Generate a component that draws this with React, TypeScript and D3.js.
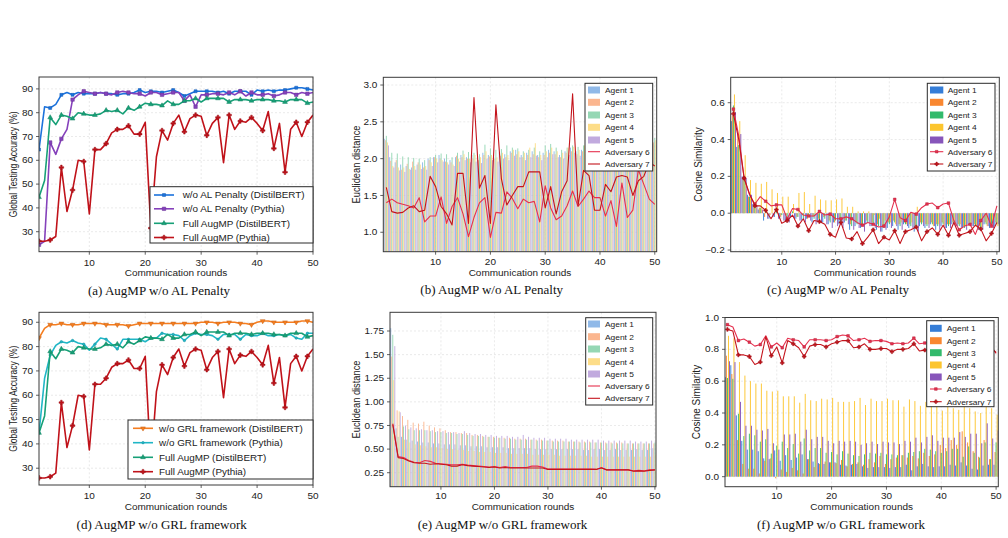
import React from "react";
import * as d3 from "d3";

// ---------------- DATA ----------------
const rounds = d3.range(1, 51);

// (a) / (d) global testing accuracy
const accNoALDistil = [64.5,82.5,82,83.5,87.5,88.5,87.5,88.5,88,88,88,88.5,88,88,87.5,88,88,88.5,89.5,88.5,89,89,88.5,89,89.5,88.5,87,88,89,89,89,89,88.5,89,88,89,89,89,87.5,89.5,89,89.5,89,89.5,89.5,90,90.5,90.5,90,89.5];
const accNoALPythia = [24.5,26,67.5,62.5,69,73,85.5,87.5,89,88.5,88,88.5,88,87.5,88.5,89,88.5,88,88,87,88.5,88.5,87.5,88,88.5,88.5,85,87.5,82.5,87.5,87.5,88,88,87.5,88.5,87.5,89,87,88.5,87.5,87.5,88,87,87.5,88.5,88.5,87.5,88.5,88,88.5];
const accFullDistil = [44.5,51.5,78,75,79,78.5,77.5,80,79.5,79,79,79.5,81,80.5,81,79.5,82,81,82.5,84,83.5,83.5,83,85,83.5,83.5,85,85,86,84.5,86,86,86,86,84.5,85.5,85.5,85.5,85,85.5,85.5,85.5,85,85,84.5,85.5,85.5,85.5,84,84.5];
const accFullPythia = [26,26,26.5,28,57,38.5,47.5,60,59.5,37.5,64.5,64.5,67,71.5,73,73,74.5,71,71,76,31.5,61.5,72.5,68.5,75.5,79,72,77.5,79,78.5,70.5,75.5,78,59,79,73,76.5,76,78,75.5,72.5,80.5,65,75.5,55,73,76,70,76,79];
const accNoGRLDistil = [83.5,87.5,89,89,89.5,89,89,89,89.5,89.5,89.5,89.5,89,89,89,89,88.5,89,89.5,89.5,89.5,89.5,89.5,89.5,89.5,89.5,89.5,89.5,89.5,90,90,90,89.5,90,90,90,89.5,89.5,89,90,90.5,90.5,90,90,90,90,90,90.5,90.5,90];
const accNoGRLPythia = [44.5,67,76.5,80.5,82,81.5,82.5,81.5,81,78.5,81,83.5,83,81,79,83,83,83,83,82,83.5,83.5,85.5,85,85,84.5,82.5,84.5,85.5,85,85,84.5,83,85,85,85,83,85,84.5,84.5,85.5,84.5,84.5,85,84.5,85,83.5,83,85.5,85.5];

// (b) Euclidean distance, w/o AL penalty
const eucB1 = [2.27,2.02,1.95,1.92,1.9,1.88,1.92,1.95,2.0,2.02,2.05,2.0,1.98,2.02,2.05,2.02,2.05,2.03,2.08,2.05,2.02,2.08,2.06,2.1,2.12,2.05,2.08,2.1,2.05,2.08,2.12,2.1,2.05,2.1,2.15,2.1,2.12,2.15,2.1,2.12,2.15,2.12,2.1,2.15,2.12,2.18,2.15,2.1,2.15,2.2];
const eucB2 = [2.25,1.97,1.98,1.85,1.93,1.96,1.95,1.88,1.98,2.02,2.0,1.96,1.95,2.04,2.02,2.0,2.0,1.98,2.05,2.03,2.0,2.04,2.02,2.08,2.06,2.02,2.05,2.06,2.02,2.05,2.08,2.06,2.02,2.08,2.1,2.06,2.1,2.1,2.06,2.08,2.12,2.08,2.06,2.1,2.08,2.12,2.1,2.08,2.12,2.22];
const eucB3 = [2.31,2.08,2.07,2.03,2.02,2.01,2.0,1.98,2.02,2.05,2.07,2.06,2.02,2.08,2.11,2.09,2.08,2.06,2.19,2.14,2.12,2.13,2.18,2.15,2.14,2.1,2.12,2.15,2.1,2.18,2.2,2.15,2.12,2.15,2.18,2.16,2.18,2.2,2.15,2.18,2.2,2.18,2.15,2.2,2.18,2.22,2.2,2.15,2.2,2.28];
const eucB4 = [2.22,1.9,1.88,1.88,1.86,1.9,1.92,1.9,1.95,2.0,1.98,1.95,1.92,2.0,2.06,2.0,2.05,2.02,2.1,2.05,2.02,2.08,2.05,2.12,2.1,2.08,2.15,2.21,2.05,2.1,2.15,2.1,2.08,2.15,2.16,2.12,2.18,2.2,2.12,2.15,2.18,2.15,2.12,2.18,2.15,2.2,2.18,2.12,2.18,2.25];
const eucB5 = [2.18,1.88,1.84,1.82,1.85,1.85,1.86,1.85,1.9,1.95,1.96,1.92,1.9,1.96,1.98,1.95,1.96,1.94,2.0,1.98,1.96,2.0,1.98,2.04,2.02,1.98,2.02,2.04,1.98,2.02,2.06,2.02,2.0,2.05,2.08,2.04,2.06,2.08,2.04,2.06,2.1,2.06,2.04,2.08,2.06,2.1,2.08,2.04,2.08,2.18];
const eucBAdv6 = [1.40,1.45,1.40,1.38,1.36,1.33,1.47,1.14,1.22,1.22,1.48,1.12,1.35,1.47,1.25,0.94,1.20,1.40,1.47,0.93,1.27,1.26,1.55,1.46,1.32,1.45,1.40,1.42,1.14,1.63,1.33,1.17,1.22,1.36,1.56,1.35,1.45,1.56,1.47,1.47,1.22,1.43,1.08,1.67,1.20,1.30,1.85,1.65,1.45,1.38];
const eucBAdv7 = [1.61,1.28,1.26,1.27,1.33,1.36,1.28,1.30,1.76,1.62,1.35,1.25,1.10,1.80,1.80,1.12,2.83,1.60,1.77,1.12,2.73,1.73,1.37,1.50,1.62,1.62,1.82,1.82,1.82,1.33,1.62,1.25,1.55,1.70,2.88,1.36,1.84,1.77,1.30,1.30,1.65,1.55,1.75,1.77,1.75,1.50,1.70,1.76,1.95,1.90];

// (c) cosine similarity, w/o AL penalty
const cosC1 = [0.50,0.36,0.20,0.10,0.05,0.02,-0.04,-0.03,-0.02,-0.03,-0.04,-0.02,-0.03,-0.04,-0.03,-0.05,-0.04,-0.05,-0.06,-0.05,-0.06,-0.05,-0.09,-0.07,-0.08,-0.06,-0.07,-0.09,-0.1,-0.08,-0.07,-0.09,-0.06,-0.08,-0.1,-0.07,-0.08,-0.06,-0.09,-0.07,-0.08,-0.06,-0.07,-0.08,-0.06,-0.07,-0.09,-0.06,-0.08,-0.07];
const cosC2 = [0.53,0.43,0.19,0.09,0.04,0.03,-0.02,-0.01,0.0,-0.02,-0.01,0.0,-0.02,-0.01,-0.03,-0.02,-0.03,-0.02,-0.04,-0.05,-0.03,-0.04,-0.06,-0.05,-0.06,-0.04,-0.05,-0.06,-0.07,-0.05,-0.04,-0.06,-0.05,-0.06,-0.07,-0.05,-0.06,-0.05,-0.06,-0.05,-0.06,-0.05,-0.06,-0.07,-0.05,-0.06,-0.07,-0.05,-0.06,-0.05];
const cosC3 = [0.585,0.37,0.20,0.09,0.05,0.03,0.01,0.0,0.02,-0.01,-0.02,0.01,-0.02,-0.03,-0.02,-0.03,-0.04,-0.03,-0.05,-0.04,-0.05,-0.04,-0.07,-0.06,-0.07,-0.05,-0.06,-0.07,-0.08,-0.06,-0.05,-0.07,-0.06,-0.07,-0.08,-0.06,-0.07,-0.06,-0.07,-0.06,-0.07,-0.06,-0.07,-0.08,-0.06,-0.07,-0.08,-0.06,-0.07,-0.06];
const cosC4 = [0.645,0.50,0.315,0.18,0.165,0.16,0.17,0.13,0.11,0.09,0.09,0.05,0.11,0.115,0.05,0.095,0.075,0.07,0.07,0.075,0.08,0.035,0.035,0.01,0.01,0.01,-0.01,-0.03,-0.04,-0.05,-0.06,-0.05,-0.06,-0.05,0.035,-0.05,-0.06,-0.07,-0.06,-0.07,-0.06,-0.05,-0.06,-0.07,-0.06,-0.07,-0.08,-0.07,-0.06,-0.07];
const cosC5 = [0.55,0.43,0.19,0.10,0.04,0.02,-0.03,-0.02,-0.03,-0.04,-0.05,-0.03,-0.04,-0.05,-0.04,-0.06,-0.05,-0.06,-0.08,-0.07,-0.08,-0.06,-0.09,-0.08,-0.1,-0.07,-0.08,-0.1,-0.09,-0.08,-0.07,-0.09,-0.07,-0.08,-0.1,-0.07,-0.08,-0.07,-0.09,-0.08,-0.08,-0.07,-0.08,-0.09,-0.07,-0.08,-0.09,-0.07,-0.08,-0.06];
const cosCAdv6 = [0.565,0.42,0.19,0.10,0.05,0.09,0.065,0.04,0.045,0.045,-0.03,0.025,0.02,-0.01,-0.015,-0.015,0.01,-0.01,-0.005,-0.03,-0.03,-0.02,-0.03,-0.05,-0.065,-0.05,-0.06,-0.075,-0.07,-0.02,0.075,-0.025,-0.04,0.005,-0.005,0.03,0.05,0.055,0.03,0.05,0.055,-0.04,-0.09,-0.07,-0.06,-0.115,-0.04,0.0,-0.07,0.04];
const cosCAdv7 = [0.54,0.40,0.19,0.105,0.04,0.04,0.015,-0.03,0.02,-0.055,-0.04,-0.01,-0.07,-0.03,-0.095,-0.04,-0.045,-0.06,-0.115,-0.13,-0.05,-0.135,-0.14,-0.1,-0.165,-0.13,-0.09,-0.165,-0.13,-0.145,-0.095,-0.165,-0.1,-0.09,-0.075,-0.15,-0.1,-0.08,-0.115,-0.065,-0.12,-0.05,-0.12,-0.11,-0.10,-0.065,-0.085,-0.15,-0.11,-0.05];

// (e) Euclidean distance, w/o GRL framework
const eucE1 = [1.78,0.72,0.63,0.6,0.59,0.58,0.57,0.57,0.56,0.56,0.55,0.55,0.55,0.54,0.54,0.53,0.53,0.53,0.52,0.52,0.52,0.52,0.51,0.51,0.51,0.51,0.51,0.5,0.5,0.5,0.5,0.5,0.5,0.5,0.5,0.5,0.49,0.49,0.5,0.5,0.49,0.49,0.5,0.49,0.49,0.49,0.5,0.49,0.49,0.51];
const eucE2 = [1.48,0.91,0.85,0.81,0.78,0.77,0.79,0.75,0.73,0.72,0.7,0.68,0.68,0.67,0.67,0.65,0.65,0.64,0.63,0.63,0.62,0.62,0.62,0.61,0.61,0.61,0.6,0.6,0.6,0.59,0.59,0.59,0.59,0.58,0.58,0.58,0.58,0.58,0.57,0.57,0.57,0.57,0.57,0.57,0.56,0.56,0.56,0.56,0.56,0.56];
const eucE3 = [1.71,0.63,0.74,0.71,0.7,0.7,0.7,0.69,0.68,0.68,0.67,0.67,0.66,0.66,0.65,0.64,0.64,0.63,0.63,0.62,0.62,0.61,0.61,0.6,0.6,0.6,0.6,0.59,0.59,0.59,0.58,0.58,0.58,0.58,0.58,0.57,0.57,0.57,0.57,0.57,0.56,0.56,0.56,0.56,0.56,0.56,0.56,0.56,0.56,0.57];
const eucE4 = [1.23,0.9,0.6,0.57,0.55,0.54,0.53,0.52,0.52,0.51,0.5,0.5,0.49,0.49,0.48,0.48,0.47,0.47,0.47,0.46,0.46,0.46,0.45,0.45,0.45,0.45,0.44,0.44,0.44,0.44,0.44,0.43,0.43,0.43,0.43,0.43,0.43,0.42,0.42,0.42,0.42,0.42,0.42,0.42,0.42,0.42,0.42,0.42,0.42,0.44];
const eucE5 = [1.59,0.89,0.75,0.73,0.72,0.71,0.7,0.7,0.69,0.69,0.68,0.68,0.67,0.69,0.67,0.66,0.66,0.65,0.65,0.64,0.64,0.64,0.63,0.63,0.65,0.63,0.62,0.62,0.62,0.61,0.61,0.61,0.61,0.6,0.6,0.6,0.6,0.6,0.6,0.59,0.59,0.59,0.59,0.59,0.59,0.58,0.58,0.58,0.59,0.6];
const eucEAdv6 = [0.77,0.42,0.41,0.38,0.36,0.355,0.38,0.37,0.35,0.345,0.34,0.335,0.335,0.34,0.33,0.325,0.32,0.315,0.31,0.315,0.305,0.315,0.305,0.305,0.305,0.305,0.32,0.32,0.31,0.29,0.29,0.29,0.29,0.29,0.29,0.29,0.29,0.29,0.285,0.305,0.28,0.28,0.28,0.28,0.28,0.27,0.275,0.27,0.28,0.28];
const eucEAdv7 = [0.76,0.41,0.40,0.375,0.355,0.35,0.35,0.34,0.345,0.34,0.335,0.32,0.32,0.335,0.325,0.32,0.315,0.31,0.305,0.31,0.3,0.305,0.3,0.3,0.3,0.3,0.3,0.3,0.3,0.285,0.285,0.285,0.285,0.285,0.285,0.285,0.285,0.285,0.285,0.3,0.28,0.28,0.28,0.28,0.28,0.265,0.27,0.265,0.275,0.28];

// (f) cosine similarity, w/o GRL framework
const cosF1 = [0.625,0.70,0.385,0.225,0.17,0.17,0.16,0.115,0.11,0.165,0.10,0.135,0.105,0.12,0.14,0.11,0.095,0.085,0.08,0.09,0.09,0.075,0.07,0.075,0.08,0.065,0.055,0.06,0.06,0.06,0.055,0.06,0.06,0.075,0.04,0.065,0.08,0.065,0.06,0.065,0.065,0.075,0.07,0.09,0.07,0.05,0.045,0.07,0.075,0.075];
const cosF2 = [0.76,0.645,0.23,0.08,0.05,0.05,0.02,0.10,0.115,-0.01,0.045,0.03,0.055,0.04,0.02,0.11,0.06,0.08,0.095,0.09,0.085,0.105,0.065,0.08,0.09,0.075,0.11,0.09,0.13,0.08,0.11,0.12,0.135,0.12,0.13,0.115,0.15,0.13,0.14,0.2,0.18,0.23,0.2,0.285,0.215,0.16,0.125,0.23,0.11,0.155];
const cosF3 = [0.62,0.615,0.395,0.255,0.27,0.26,0.22,0.235,0.145,0.195,0.22,0.18,0.205,0.145,0.24,0.165,0.18,0.18,0.15,0.155,0.14,0.16,0.145,0.135,0.13,0.14,0.15,0.145,0.15,0.14,0.14,0.135,0.135,0.15,0.155,0.16,0.175,0.17,0.16,0.15,0.16,0.175,0.175,0.125,0.19,0.15,0.12,0.215,0.11,0.215];
const cosF4 = [0.885,0.87,0.72,0.635,0.60,0.585,0.585,0.54,0.535,0.54,0.505,0.505,0.505,0.465,0.52,0.48,0.475,0.49,0.485,0.495,0.47,0.47,0.47,0.475,0.495,0.45,0.49,0.475,0.475,0.49,0.48,0.48,0.44,0.485,0.475,0.445,0.47,0.46,0.45,0.415,0.44,0.43,0.42,0.44,0.43,0.41,0.40,0.44,0.43,0.39];
const cosF5 = [0.725,0.72,0.47,0.32,0.32,0.295,0.29,0.30,0.21,0.17,0.265,0.265,0.27,0.22,0.295,0.235,0.25,0.25,0.225,0.21,0.225,0.22,0.225,0.22,0.20,0.21,0.22,0.205,0.22,0.215,0.215,0.205,0.225,0.22,0.245,0.215,0.25,0.26,0.225,0.245,0.245,0.245,0.28,0.25,0.27,0.27,0.21,0.335,0.24,0.29];
const cosFAdv6 = [0.955,0.94,0.855,0.865,0.845,0.82,0.83,0.885,0.815,0.84,0.81,0.87,0.86,0.855,0.815,0.86,0.86,0.86,0.855,0.86,0.88,0.89,0.885,0.855,0.86,0.87,0.85,0.855,0.855,0.85,0.835,0.84,0.835,0.84,0.87,0.835,0.84,0.845,0.84,0.85,0.845,0.84,0.85,0.845,0.84,0.835,0.84,0.835,0.82,0.775];
const cosFAdv7 = [0.925,0.915,0.765,0.765,0.755,0.705,0.72,0.88,0.76,0.815,0.715,0.855,0.835,0.81,0.755,0.82,0.83,0.83,0.815,0.835,0.845,0.855,0.855,0.81,0.815,0.835,0.80,0.80,0.805,0.805,0.785,0.80,0.80,0.805,0.835,0.79,0.795,0.80,0.81,0.80,0.805,0.80,0.795,0.81,0.805,0.80,0.805,0.80,0.81,0.78];

const agentLabels = ["Agent 1", "Agent 2", "Agent 3", "Agent 4", "Agent 5"];
const advLabels = ["Adversary 6", "Adversary 7"];
const xTicks = [10, 20, 30, 40, 50];
const accTicks = [30, 40, 50, 60, 70, 80, 90];
const eucBTicks = [1.0, 1.5, 2.0, 2.5, 3.0];
const cosCTicks = [-0.2, 0.0, 0.2, 0.4, 0.6];
const eucETicks = [0.25, 0.5, 0.75, 1.0, 1.25, 1.5, 1.75];
const cosFTicks = [0.0, 0.2, 0.4, 0.6, 0.8, 1.0];

// ---------------- STYLE ----------------
const SANS = "'Liberation Sans', Arial, sans-serif";
const SERIF = "'Liberation Serif', 'Times New Roman', serif";
const pastel = ["#90b9e8", "#fbb68f", "#95d7b4", "#fddd88", "#c1aade"];
const solid = ["#1f6fd3", "#f87a1a", "#1cb35c", "#fcbf17", "#7a43b2"];
const adv6Color = "#e5304e";
const adv7Color = "#c4141c";

type Marker = "square" | "triup" | "tridown" | "cross" | "circle" | "none";
type LineSpec = { values: number[]; color: string; marker: Marker; width: number; label: string; msize: number };
type Panel = {
  id: string;
  x0: number; x1: number; y0: number; y1: number;
  xDom: [number, number]; yDom: [number, number];
  yTicks: number[]; yFmt: (v: number) => string;
  bars?: { values: number[][]; colors: string[]; opacity: number };
  lines: LineSpec[];
  legend: { x: number; y: number; w: number; h: number; rows: number[]; hx0: number; hx1: number; tx: number; fs: number; patch: boolean };
  yLabel: string; yLabelX: number; sy: number; syLabel: number;
  caption: string; capX: number; capY: number; tickY: number; axLabelY: number;
};

const fmt1 = (v: number) => (v < 0 ? "\u2212" : "") + Math.abs(v).toFixed(1);
const fmt2 = (v: number) => v.toFixed(2);
const fmt0 = (v: number) => String(v);

function markerPath(m: Marker, size: number): string | null {
  switch (m) {
    case "square": return d3.symbol().type(d3.symbolSquare).size(size)();
    case "triup": return d3.symbol().type(d3.symbolTriangle).size(size)();
    case "tridown": return d3.symbol().type(d3.symbolTriangle).size(size)();
    case "cross": return d3.symbol().type(d3.symbolCross).size(size)();
    case "circle": return d3.symbol().type(d3.symbolCircle).size(size)();
    default: return null;
  }
}

const T: React.FC<{ x: number; y: number; sy: number; size: number; anchor?: string; children: React.ReactNode; rot?: boolean; family?: string }> = ({ x, y, sy, size, anchor = "middle", children, rot, family = SANS }) => (
  <text
    transform={rot ? `translate(${x},${y}) rotate(-90) scale(${sy},1)` : `translate(${x},${y}) scale(1,${sy})`}
    fontSize={size}
    fontFamily={family}
    textAnchor={anchor}
    fill="#222"
  >
    {children}
  </text>
);

const PanelView: React.FC<{ p: Panel }> = ({ p }) => {
  const xs = d3.scaleLinear().domain(p.xDom).range([p.x0, p.x1]);
  const ys = d3.scaleLinear().domain(p.yDom).range([p.y1, p.y0]);
  const clipId = `clip-${p.id}`;
  const lineGen = (vals: number[]) =>
    d3.line<number>().x((_, i) => xs(rounds[i])).y((d) => ys(d))(vals) || "";
  const barStep = 0.19;
  const barW = 0.17;
  return (
    <g>
      <defs>
        <clipPath id={clipId}>
          <rect x={p.x0} y={p.y0} width={p.x1 - p.x0} height={p.y1 - p.y0} />
        </clipPath>
      </defs>
      {/* grid */}
      <g stroke="#dcdcdc" strokeWidth={0.6} strokeDasharray="2,2">
        {xTicks.map((t) => (
          <line key={"gx" + t} x1={xs(t)} x2={xs(t)} y1={p.y0} y2={p.y1} />
        ))}
        {p.yTicks.map((t) => (
          <line key={"gy" + t} x1={p.x0} x2={p.x1} y1={ys(t)} y2={ys(t)} />
        ))}
      </g>
      <g clipPath={`url(#${clipId})`}>
        {p.bars &&
          p.bars.values.map((vals, a) =>
            vals.map((v, i) => {
              const cx = rounds[i] + (a - 2) * barStep;
              const xa = xs(cx - barW / 2);
              const xb = xs(cx + barW / 2);
              const y0 = ys(0);
              const yv = ys(v);
              return (
                <rect
                  key={`b${a}-${i}`}
                  x={xa}
                  width={xb - xa}
                  y={Math.min(y0, yv)}
                  height={Math.abs(y0 - yv)}
                  fill={p.bars!.colors[a]}
                  opacity={p.bars!.opacity}
                />
              );
            })
          )}
        {p.lines.map((l, k) => (
          <g key={"l" + k}>
            <path d={lineGen(l.values)} fill="none" stroke={l.color} strokeWidth={l.width} strokeLinejoin="round" />
            {l.marker !== "none" &&
              l.values.map((v, i) =>
                i % 2 === 0 ? (
                  <path
                    key={"m" + i}
                    d={markerPath(l.marker, l.msize) || ""}
                    transform={`translate(${xs(rounds[i])},${ys(v)})${l.marker === "tridown" ? " rotate(180)" : ""}`}
                    fill={l.color}
                    stroke={d3.color(l.color)!.darker(0.6).toString()}
                    strokeWidth={0.5}
                  />
                ) : null
              )}
          </g>
        ))}
      </g>
      {/* frame */}
      <rect x={p.x0} y={p.y0} width={p.x1 - p.x0} height={p.y1 - p.y0} fill="none" stroke="#3a3a3a" strokeWidth={1} />
      {/* ticks */}
      {xTicks.map((t) => (
        <g key={"tx" + t}>
          <line x1={xs(t)} x2={xs(t)} y1={p.y1} y2={p.y1 + 3} stroke="#3a3a3a" strokeWidth={0.8} />
          <T x={xs(t)} y={p.tickY} sy={p.sy} size={10}>{t}</T>
        </g>
      ))}
      {p.yTicks.map((t) => (
        <g key={"ty" + t}>
          <line x1={p.x0 - 3} x2={p.x0} y1={ys(t)} y2={ys(t)} stroke="#3a3a3a" strokeWidth={0.8} />
          <T x={p.x0 - 6} y={ys(t) + 3.1} sy={p.sy} size={10} anchor="end">{p.yFmt(t)}</T>
        </g>
      ))}
      <T x={(p.x0 + p.x1) / 2} y={p.axLabelY} sy={p.sy} size={10}>Communication rounds</T>
      <T x={p.yLabelX + 3.5} y={(p.y0 + p.y1) / 2} sy={p.syLabel} size={10} rot>{p.yLabel}</T>
      {/* legend */}
      <g>
        <rect x={p.legend.x} y={p.legend.y} width={p.legend.w} height={p.legend.h} fill="white" stroke="#2a2a2a" strokeWidth={1} />
        {p.legend.rows.map((ry, k) => {
          const isBar = p.bars && k < 5;
          let handle: React.ReactNode;
          let label: string;
          if (isBar) {
            label = agentLabels[k];
            handle = (
              <rect x={p.legend.hx0} y={ry - 3.5} width={p.legend.hx1 - p.legend.hx0} height={7} fill={p.bars!.colors[k]} opacity={p.bars!.opacity} />
            );
          } else {
            const l = p.lines[p.bars ? k - 5 : k];
            label = l.label;
            const mp = markerPath(l.marker, l.msize);
            handle = (
              <g>
                <line x1={p.legend.hx0} x2={p.legend.hx1} y1={ry} y2={ry} stroke={l.color} strokeWidth={l.width} />
                {mp && (
                  <path
                    d={mp}
                    transform={`translate(${(p.legend.hx0 + p.legend.hx1) / 2},${ry})${l.marker === "tridown" ? " rotate(180)" : ""}`}
                    fill={l.color}
                    stroke={d3.color(l.color)!.darker(0.6).toString()}
                    strokeWidth={0.5}
                  />
                )}
              </g>
            );
          }
          return (
            <g key={"lg" + k}>
              {handle}
              <T x={p.legend.tx} y={ry + p.legend.fs * 0.35} sy={p.sy} size={p.legend.fs} anchor="start">{label}</T>
            </g>
          );
        })}
      </g>
      <text x={p.capX} y={p.capY} fontSize={13} fontFamily={SERIF} textAnchor="middle" fill="#111">
        {p.caption}
      </text>
    </g>
  );
};

const blueA = "#1b72dc";
const purpleA = "#8541bb";
const greenA = "#17a077";
const redA = "#c0121a";
const orangeD = "#f57d1f";
const cyanD = "#20b6c6";

const panels: Panel[] = [
  {
    id: "a", x0: 39, x1: 313, y0: 77, y1: 251.7, xDom: [1, 50], yDom: [21.6, 95],
    yTicks: accTicks, yFmt: fmt0,
    lines: [
      { values: accNoALDistil, color: blueA, marker: "square", width: 1.6, label: "w/o AL Penalty (DistilBERT)", msize: 9 },
      { values: accNoALPythia, color: purpleA, marker: "square", width: 1.6, label: "w/o AL Penalty (Pythia)", msize: 12 },
      { values: accFullDistil, color: greenA, marker: "triup", width: 1.6, label: "Full AugMP (DistilBERT)", msize: 10 },
      { values: accFullPythia, color: redA, marker: "cross", width: 1.6, label: "Full AugMP (Pythia)", msize: 12 },
    ],
    legend: { x: 150, y: 186.7, w: 163, h: 56.3, rows: [195, 208.8, 223.3, 237.5], hx0: 154, hx1: 174, tx: 182.7, fs: 9.9, patch: false },
    yLabel: "Global Testing Accuracy (%)", yLabelX: 13.3, sy: 0.85, syLabel: 0.85,
    caption: "(a) AugMP w/o AL Penalty", capX: 159, capY: 295, tickY: 265.5, axLabelY: 275.5,
  },
  {
    id: "b", x0: 383.3, x1: 656.7, y0: 77.3, y1: 251.7, xDom: [0.45, 50.35], yDom: [0.736, 3.105],
    yTicks: eucBTicks, yFmt: fmt1,
    bars: { values: [eucB1, eucB2, eucB3, eucB4, eucB5], colors: pastel, opacity: 1 },
    lines: [
      { values: eucBAdv6, color: adv6Color, marker: "none", width: 1.1, label: advLabels[0], msize: 0 },
      { values: eucBAdv7, color: adv7Color, marker: "none", width: 1.1, label: advLabels[1], msize: 0 },
    ],
    legend: { x: 585, y: 83.3, w: 67.7, h: 87.7, rows: [90, 102.3, 115, 127.3, 140, 151.7, 164], hx0: 588, hx1: 600, tx: 605, fs: 8.4, patch: true },
    yLabel: "Euclidean distance", yLabelX: 356.7, sy: 0.88, syLabel: 0.93,
    caption: "(b) AugMP w/o AL Penalty", capX: 491.7, capY: 294, tickY: 265, axLabelY: 275.5,
  },
  {
    id: "c", x0: 730.7, x1: 999.3, y0: 77.3, y1: 251.7, xDom: [0.5, 50.45], yDom: [-0.209, 0.738],
    yTicks: cosCTicks, yFmt: fmt1,
    bars: { values: [cosC1, cosC2, cosC3, cosC4, cosC5], colors: solid, opacity: 0.9 },
    lines: [
      { values: cosCAdv6, color: adv6Color, marker: "square", width: 1.1, label: advLabels[0], msize: 7 },
      { values: cosCAdv7, color: adv7Color, marker: "cross", width: 1.1, label: advLabels[1], msize: 8 },
    ],
    legend: { x: 927.3, y: 83.3, w: 67.7, h: 87.7, rows: [90, 102.3, 115, 127.3, 140, 151.7, 164], hx0: 930, hx1: 943.3, tx: 947.7, fs: 8.4, patch: true },
    yLabel: "Cosine Similarity", yLabelX: 698, sy: 0.88, syLabel: 1.0,
    caption: "(c) AugMP w/o AL Penalty", capX: 838, capY: 294, tickY: 265, axLabelY: 275.5,
  },
  {
    id: "d", x0: 39, x1: 313, y0: 312.3, y1: 485, xDom: [1, 50], yDom: [23.1, 94.1],
    yTicks: accTicks, yFmt: fmt0,
    lines: [
      { values: accNoGRLDistil, color: orangeD, marker: "tridown", width: 1.6, label: "w/o GRL framework (DistilBERT)", msize: 10 },
      { values: accNoGRLPythia, color: cyanD, marker: "circle", width: 1.6, label: "w/o GRL framework (Pythia)", msize: 5 },
      { values: accFullDistil, color: greenA, marker: "triup", width: 1.6, label: "Full AugMP (DistilBERT)", msize: 10 },
      { values: accFullPythia, color: redA, marker: "cross", width: 1.6, label: "Full AugMP (Pythia)", msize: 12 },
    ],
    legend: { x: 128, y: 420, w: 185, h: 59, rows: [428.3, 442.7, 457.3, 471.7], hx0: 133, hx1: 153, tx: 159, fs: 9.9, patch: false },
    yLabel: "Global Testing Accuracy (%)", yLabelX: 13.3, sy: 0.85, syLabel: 0.85,
    caption: "(d) AugMP w/o GRL framework", capX: 161.7, capY: 529, tickY: 499, axLabelY: 509.5,
  },
  {
    id: "e", x0: 390, x1: 656, y0: 312.3, y1: 486.7, xDom: [0.48, 50.2], yDom: [0.102, 1.948],
    yTicks: eucETicks, yFmt: fmt2,
    bars: { values: [eucE1, eucE2, eucE3, eucE4, eucE5], colors: pastel, opacity: 1 },
    lines: [
      { values: eucEAdv6, color: adv6Color, marker: "none", width: 1.1, label: advLabels[0], msize: 0 },
      { values: eucEAdv7, color: adv7Color, marker: "none", width: 1.1, label: advLabels[1], msize: 0 },
    ],
    legend: { x: 585.7, y: 317.7, w: 67, h: 87.3, rows: [324, 336.7, 349, 361.7, 374, 386, 398.3], hx0: 588, hx1: 600, tx: 605, fs: 8.4, patch: true },
    yLabel: "Euclidean distance", yLabelX: 356.7, sy: 0.88, syLabel: 0.93,
    caption: "(e) AugMP w/o GRL framework", capX: 502.5, capY: 529, tickY: 499, axLabelY: 509.5,
  },
  {
    id: "f", x0: 725, x1: 998.3, y0: 317.5, y1: 486.7, xDom: [0.56, 50.4], yDom: [-0.063, 1.0],
    yTicks: cosFTicks, yFmt: fmt1,
    bars: { values: [cosF1, cosF2, cosF3, cosF4, cosF5], colors: solid, opacity: 0.9 },
    lines: [
      { values: cosFAdv6, color: adv6Color, marker: "square", width: 1.1, label: advLabels[0], msize: 7 },
      { values: cosFAdv7, color: adv7Color, marker: "cross", width: 1.1, label: advLabels[1], msize: 8 },
    ],
    legend: { x: 926.7, y: 320.7, w: 67.3, h: 86, rows: [328.3, 340.7, 352.7, 365, 377, 389, 401.7], hx0: 930, hx1: 941.7, tx: 946.7, fs: 8.4, patch: true },
    yLabel: "Cosine Similarity", yLabelX: 696.7, sy: 0.88, syLabel: 1.0,
    caption: "(f) AugMP w/o GRL framework", capX: 841, capY: 529, tickY: 499, axLabelY: 509.5,
  },
];

export default function App() {
  return (
    <svg
      width={1008}
      height={538}
      viewBox="0 0 1008 538"
      style={{ position: "absolute", left: 0, top: 0, background: "white" }}
    >
      <rect x={0} y={0} width={1008} height={538} fill="white" />
      {panels.map((p) => (
        <PanelView key={p.id} p={p} />
      ))}
    </svg>
  );
}
